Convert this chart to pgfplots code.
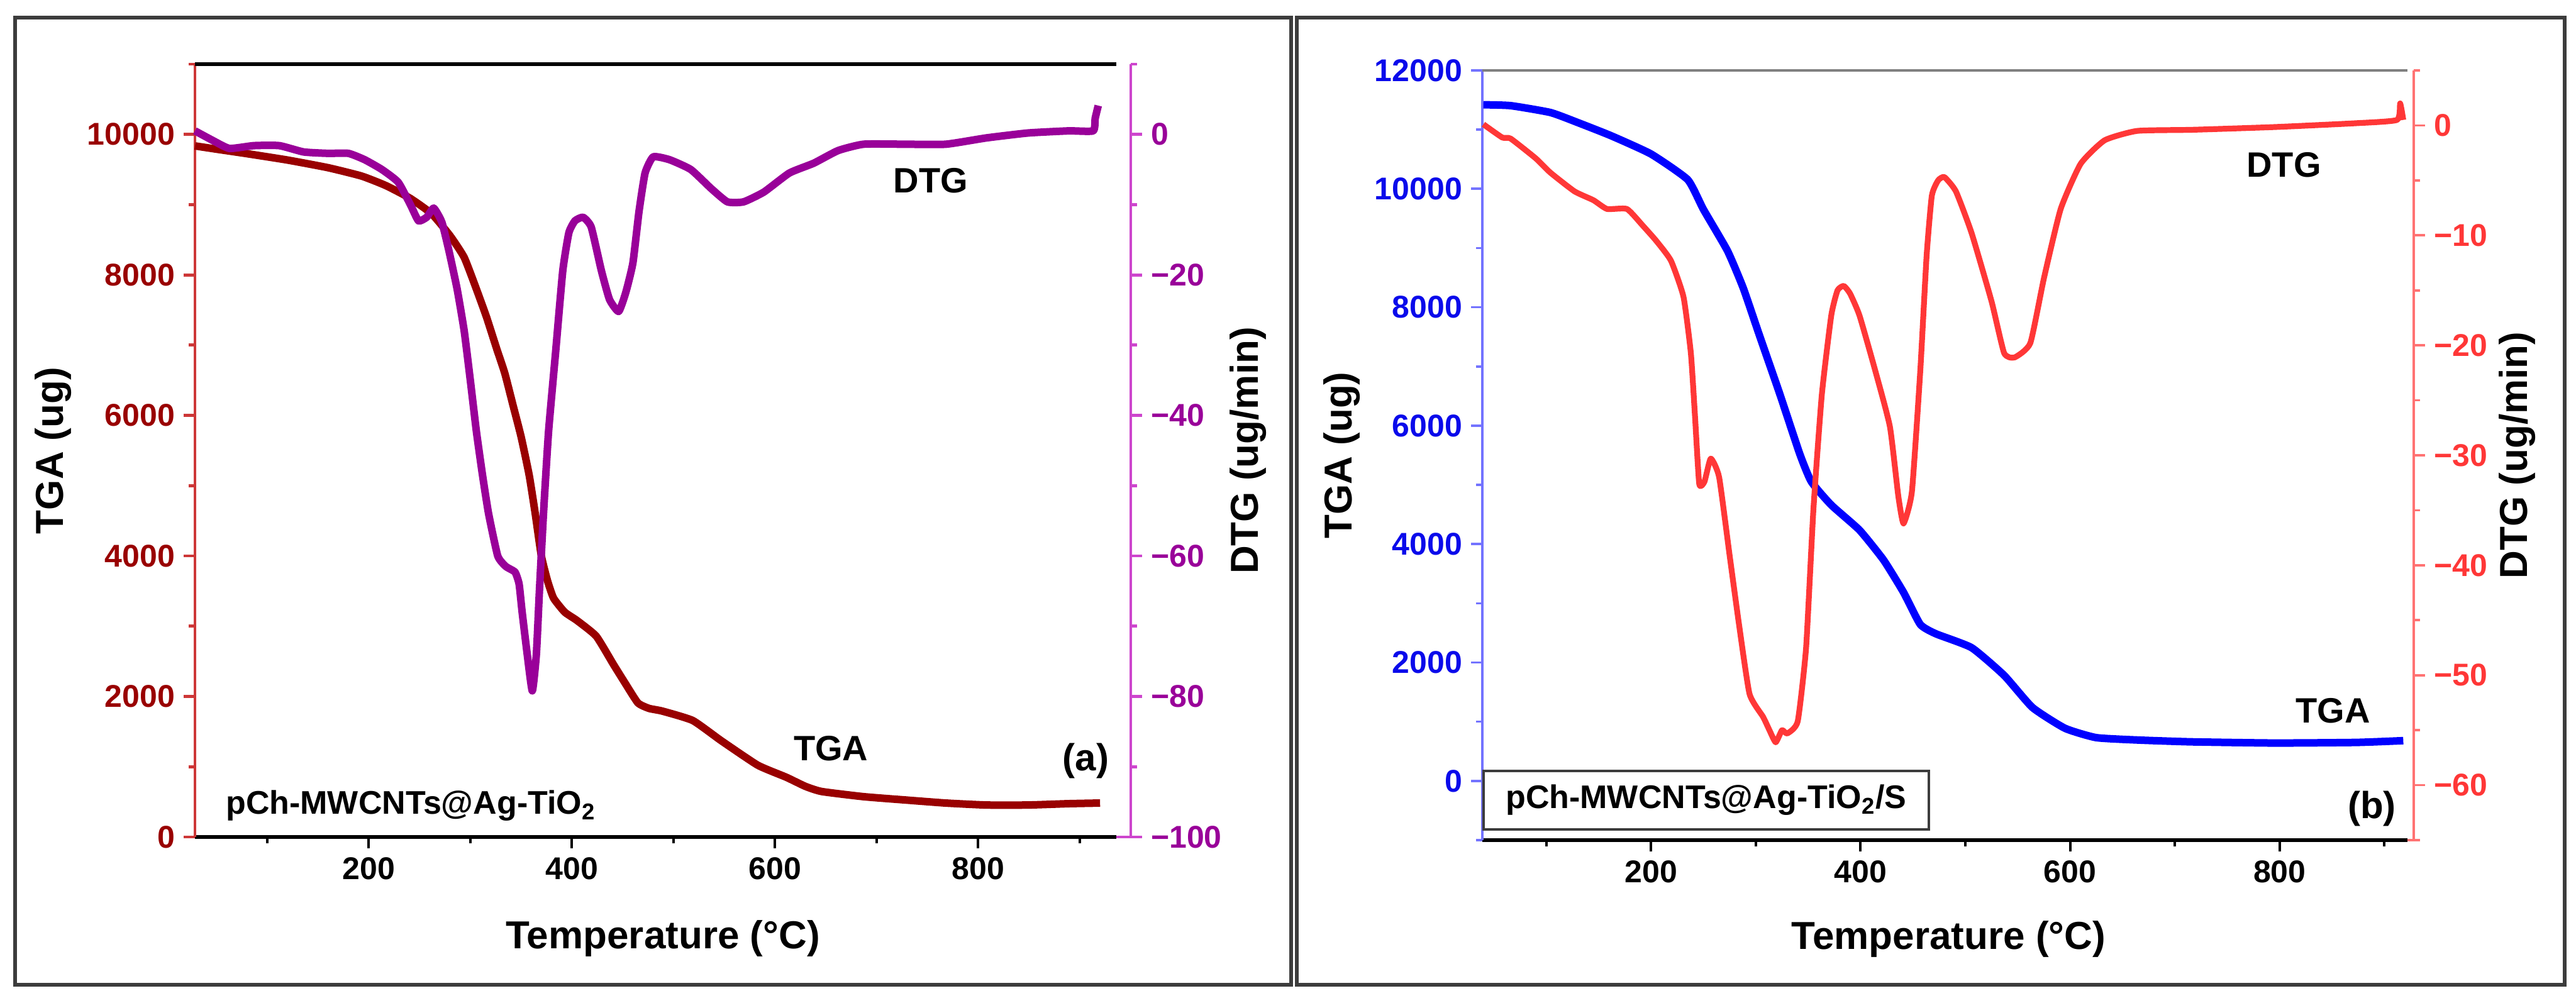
\documentclass[border=0pt]{standalone}
\usepackage{fontspec}
\setmainfont{Liberation Sans}
\usepackage{pgfplots}
\pgfplotsset{compat=1.18}
\definecolor{tgaA}{RGB}{153,0,0}
\definecolor{tgaAax}{RGB}{205,55,55}
\definecolor{dtgA}{RGB}{153,0,153}
\definecolor{dtgAax}{RGB}{205,70,205}
\definecolor{tgaB}{RGB}{0,0,255}
\definecolor{tgaBlab}{RGB}{10,10,235}
\definecolor{tgaBax}{RGB}{115,115,255}
\definecolor{dtgB}{RGB}{255,55,55}
\definecolor{dtgBax}{RGB}{255,115,115}
\definecolor{boxc}{RGB}{60,60,60}

\pgfplotsset{
  tgbase/.style={
    scale only axis, clip=false, tick align=outside,
    scaled y ticks=false, scaled x ticks=false,
    major tick length=4.5pt, minor tick length=2.5pt,
    /pgf/number format/assume math mode=true,
    /pgf/number format/1000 sep={},
    ticklabel style={font=\fontsize{12.5}{14}\selectfont\bfseries},
    label style={font=\fontsize{15.5}{18}\selectfont\bfseries},
    x axis line style={-}, y axis line style={-},
  },
}
\newcommand{\annfont}{\fontsize{14}{16}\selectfont\bfseries}

\begin{document}
\begin{tikzpicture}
\useasboundingbox (0,0) rectangle (1024pt,398.5pt);
\fill[white] (0,0) rectangle (1024pt,398.5pt);
% outer frames
\draw[boxc, line width=1.5pt] (5.9pt,7pt) rectangle (513.3pt,391.4pt);
\draw[boxc, line width=1.5pt] (515.5pt,7pt) rectangle (1019.5pt,391.4pt);

% ================= Panel (a): TGA =================
\begin{axis}[tgbase,
  at={(77.5pt,65.75pt)}, anchor=south west,
  width=366.25pt, height=307.25pt,
  xmin=29, xmax=936, ymin=0, ymax=11000,
  axis y line*=left, axis x line*=bottom,
  ytick pos=left, yticklabel pos=left,
  xtick={200,400,600,800}, minor xtick={100,300,500,700,900},
  ytick={0,2000,4000,6000,8000,10000}, minor ytick={1000,3000,5000,7000,9000,11000},
  x axis line style={black, line width=1.3pt},
  xtick style={black, line width=1pt},
  y axis line style={tgaAax, line width=1.2pt},
  ytick style={tgaAax, line width=1.2pt},
  yticklabel style={tgaA},
  xlabel={Temperature (°C)}, ylabel={TGA (ug)},
  xlabel style={at={(axis description cs:0.508,-0.131)}, anchor=center},
  ylabel style={at={(axis description cs:-0.1536,0.5)}, anchor=center},
]
\addplot[tgaA, line width=3pt, line join=round, smooth, tension=0.3] coordinates {
(29,9836)(50,9790)(80,9726)(120,9635)(160,9526)(193,9407)(217,9271)(241,9089)
(262,8870)(280,8560)(294,8250)(306,7800)(316,7400)(326,6950)(334,6600)(342,6150)
(350,5700)(358,5150)(364,4600)(370,4000)(376,3650)(382,3400)(393,3200)(405,3082)
(424,2858)(441,2455)(452,2200)(465,1909)(476,1830)(489,1792)(519,1658)(547,1371)
(583,1022)(611,851)(630,720)(646,647)(687,574)(727,528)(768,483)(808,455)(849,455)
(889,474)(920,483)};
\draw[black, line width=1.3pt] (rel axis cs:0,1) -- (rel axis cs:1,1);
\node[font=\annfont] at (axis cs:655,1257) {TGA};
\node[font=\fontsize{15}{17}\selectfont\bfseries] at (axis cs:906,1084) {(a)};
\node[font=\fontsize{13}{15}\selectfont\bfseries, anchor=base west, inner sep=0pt] at (axis cs:59,330) {pCh-MWCNTs@Ag-TiO\textsubscript{2}};
\end{axis}

% ================= Panel (a): DTG =================
\begin{axis}[tgbase,
  at={(77.5pt,65.75pt)}, anchor=south west,
  width=372pt, height=307.25pt,
  xmin=29, xmax=950, ymin=-100, ymax=10,
  axis y line*=right, axis x line=none,
  ytick pos=right, yticklabel pos=right,
  ytick={-100,-80,-60,-40,-20,0},
  yticklabels={−100,−80,−60,−40,−20,0},
  minor ytick={-90,-70,-50,-30,-10,10},
  y axis line style={dtgAax, line width=1.2pt},
  ytick style={dtgAax, line width=1.2pt},
  yticklabel style={dtgA},
  ylabel={DTG (ug/min)},
  ylabel style={at={(axis description cs:1.1257,0.5)}, anchor=center},
]
\addplot[dtgA, line width=3pt, line join=round, smooth, tension=0.3] coordinates {
(29,0.5)(47,-0.9)(63,-2.0)(87,-1.6)(112,-1.6)(136,-2.5)(160,-2.7)(180,-2.7)(196,-3.6)
(213,-5.0)(229,-6.8)(241,-10.0)(249,-12.3)(257,-11.8)(264,-10.5)(272,-12.5)(279,-16.6)
(287,-22)(294,-28)(300,-35)(306,-42.3)(312,-48.5)(318,-54)(327,-60)(335,-61.5)(344,-62.3)
(348,-64)(351,-68)(356,-74)(361,-79.2)(365,-74)(368,-65)(372,-54)(377,-42.3)(384,-30.9)
(391,-19.4)(397,-14)(403,-12.3)(411,-11.8)(419,-13.2)(429,-19.4)(437,-23.5)(446,-25.2)
(453,-22.5)(460,-18.3)(466,-11)(472,-5.5)(480,-3.2)(496,-3.6)(517,-5.0)(537,-7.7)
(553,-9.6)(569,-9.6)(589,-8.2)(614,-5.5)(638,-4.1)(662,-2.3)(687,-1.4)(727,-1.4)
(768,-1.4)(808,-0.5)(849,0.2)(889,0.5)(913,0.5)(915,2.3)(918,4.1)};
\draw[dtgAax, line width=1.2pt] (axis cs:936,-100) -- (axis cs:950,-100);
\node[font=\annfont] at (axis cs:753,-6.6) {DTG};
\end{axis}

% ================= Panel (b): TGA =================
\begin{axis}[tgbase,
  at={(589.25pt,64.5pt)}, anchor=south west,
  width=367.75pt, height=306pt,
  xmin=39, xmax=922, ymin=-1000, ymax=12000,
  axis y line*=left, axis x line*=bottom,
  ytick pos=left, yticklabel pos=left,
  xtick={200,400,600,800}, minor xtick={100,300,500,700,900},
  ytick={0,2000,4000,6000,8000,10000,12000},
  minor ytick={-1000,1000,3000,5000,7000,9000,11000},
  x axis line style={black, line width=1.3pt},
  xtick style={black, line width=1pt},
  y axis line style={tgaBax, line width=0.9pt},
  ytick style={tgaBax, line width=0.9pt},
  yticklabel style={tgaBlab},
  xlabel={Temperature (°C)}, ylabel={TGA (ug)},
  xlabel style={at={(axis description cs:0.504,-0.129)}, anchor=center},
  ylabel style={at={(axis description cs:-0.152,0.5)}, anchor=center},
]
\addplot[tgaB, line width=3pt, line join=round, smooth, tension=0.3] coordinates {
(40,11420)(66,11405)(104,11289)(130,11120)(162,10896)(200,10588)(235,10155)(250,9653)
(273,8952)(288,8325)(303,7550)(323,6530)(342,5521)(353,5054)(372,4661)(399,4236)
(422,3730)(441,3185)(457,2643)(472,2484)(506,2250)(537,1783)(564,1241)(595,890)
(625,731)(667,689)(716,660)(795,640)(873,650)(918,680)};
\draw[gray, line width=0.9pt] (rel axis cs:0,1) -- (rel axis cs:1,1);
\node[font=\annfont] at (axis cs:851,1188) {TGA};
\node[font=\fontsize{15}{17}\selectfont\bfseries] at (axis cs:888,-469) {(b)};
\node[draw=boxc, line width=0.9pt, anchor=north west, inner sep=2pt,
      minimum width=177pt, minimum height=23.3pt,
      font=\fontsize{13}{15}\selectfont\bfseries] at (axis cs:39,190) {pCh-MWCNTs@Ag-TiO\textsubscript{2}/S};
\end{axis}

% ================= Panel (b): DTG =================
\begin{axis}[tgbase,
  at={(589.25pt,64.5pt)}, anchor=south west,
  width=370.25pt, height=306pt,
  xmin=39, xmax=928, ymin=-65, ymax=5,
  axis y line*=right, axis x line=none,
  ytick pos=right, yticklabel pos=right,
  ytick={-60,-50,-40,-30,-20,-10,0},
  yticklabels={−60,−50,−40,−30,−20,−10,0},
  minor ytick={-65,-55,-45,-35,-25,-15,-5,5},
  y axis line style={dtgBax, line width=0.9pt},
  ytick style={dtgBax, line width=0.9pt},
  yticklabel style={dtgB},
  ylabel={DTG (ug/min)},
  ylabel style={at={(axis description cs:1.111,0.5)}, anchor=center},
]
\addplot[dtgB, line width=2.3pt, line join=round, smooth, tension=0.3] coordinates {
(40,0.1)(58,-1.1)(66,-1.2)(90,-3.0)(104,-4.3)(127,-6.0)(145,-6.8)(158,-7.6)(177,-7.6)
(192,-9.1)(205,-10.5)(219,-12.3)(231,-15.6)(238,-20.7)(242,-26.5)(246,-32.6)(251,-32.4)
(257,-30.3)(265,-32.0)(275,-39.1)(284,-45.4)(294,-51.7)(307,-53.8)(313,-55)(319,-56.1)
(325,-55)(330,-55.3)(340,-54.2)(348,-47.5)(355,-34.9)(363,-24.5)(372,-17.3)(378,-15.0)
(384,-14.6)(390,-15.3)(399,-17.3)(414,-22.3)(428,-27.4)(436,-33.7)(441,-36.2)(449,-33.3)
(457,-22.3)(463,-11.9)(468,-6.4)(474,-5.0)(480,-4.7)(491,-6.0)(506,-9.8)(525,-16.0)
(537,-20.7)(547,-21.1)(562,-19.8)(575,-13.9)(591,-7.6)(610,-3.5)(633,-1.35)(664,-0.5)
(716,-0.4)(795,-0.15)(873,0.2)(912,0.5)(915,2.0)(918,0.5)};
\draw[dtgBax, line width=0.9pt] (axis cs:922,-65) -- (axis cs:928,-65);
\node[font=\annfont] at (axis cs:804,-3.6) {DTG};
\end{axis}
\end{tikzpicture}
\end{document}
